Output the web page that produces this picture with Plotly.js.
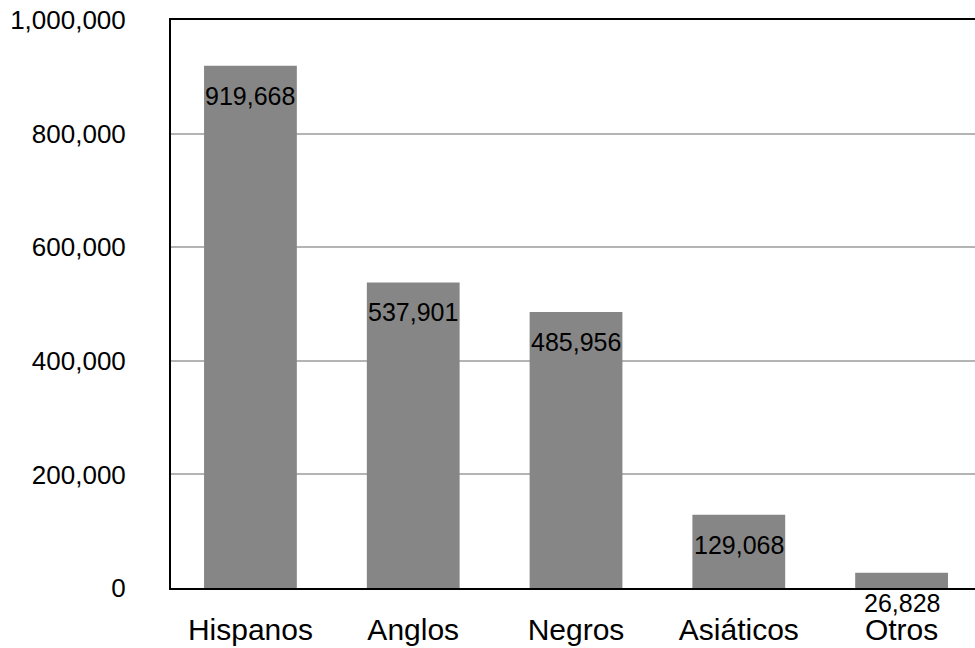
<!DOCTYPE html>
<html>
<head>
<meta charset="utf-8">
<script src="https://cdn.plot.ly/plotly-3.0.1.min.js"></script>
<style>html,body{margin:0;padding:0;background:#fff;}#chart{width:975px;height:648px;}</style>
</head>
<body>
<div id="chart"></div>
<script>
const categories = ["Hispanos", "Anglos", "Negros", "Asiáticos", "Otros"];
const population = [919668, 537901, 485956, 129068, 26828];
const valueLabels = ["919,668", "537,901", "485,956", "129,068", "26,828"];
const yTickValues = [0, 200000, 400000, 600000, 800000, 1000000];
const yTickLabels = ["0", "200,000", "400,000", "600,000", "800,000", "1,000,000"];

const FONT = "Liberation Sans, Arial, sans-serif";

const trace = {
  type: "bar",
  x: categories,
  y: population,
  width: 0.57,
  marker: {color: "#868686", line: {width: 0}},
  hoverinfo: "skip"
};

const annotations = categories.map((c, i) => ({
  x: c, y: population[i], xref: "x", yref: "y",
  text: valueLabels[i], showarrow: false,
  yanchor: "middle", xanchor: "center", yshift: -30,
  font: {family: FONT, size: 25, color: "#000"}
}));

const layout = {
  width: 975, height: 648,
  margin: {l: 171, r: 0, t: 20, b: 60, pad: 0},
  paper_bgcolor: "#fff", plot_bgcolor: "#fff",
  showlegend: false,
  font: {family: FONT, color: "#000"},
  xaxis: {
    type: "category",
    range: [-0.488, 4.451],
    showline: true, mirror: true, linecolor: "#000", linewidth: 2,
    showgrid: false, zeroline: false,
    ticks: "", ticklabelstandoff: 14,
    tickfont: {family: FONT, size: 30, color: "#000"}
  },
  yaxis: {
    range: [0, 1000000],
    tickvals: yTickValues, ticktext: yTickLabels,
    showline: true, linecolor: "#000", linewidth: 2,
    showgrid: true, gridcolor: "#b4b4b4", gridwidth: 2,
    zeroline: false, ticks: "", ticklabelstandoff: 38,
    tickfont: {family: FONT, size: 26, color: "#000"}
  },
  annotations: annotations
};

Plotly.newPlot("chart", [trace], layout, {staticPlot: true, displayModeBar: false});
</script>
</body>
</html>
